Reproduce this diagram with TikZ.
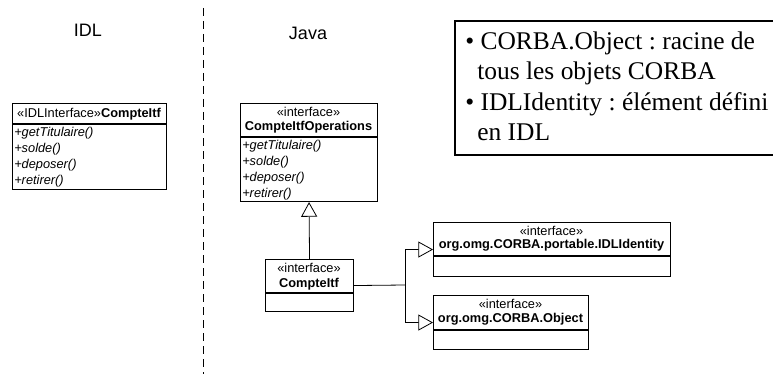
\documentclass[tikz,border=0pt]{standalone}
\usepackage{fontspec}
\setmainfont{Liberation Serif}
\setsansfont{Liberation Sans}
\usetikzlibrary{arrows.meta}
\frenchspacing

\tikzset{
  umlbox/.style={draw, line width=0.8pt, anchor=north west, inner sep=0pt},
  umltext/.style={font=\sffamily\fontsize{9.6}{11}\selectfont, inner sep=0.75pt},
  umlop/.style={anchor=west, inner sep=0.75pt, font=\sffamily\itshape\fontsize{9.6}{11}\selectfont},
  realize/.style={line width=0.6pt, -{Triangle[open, length=11pt, width=12pt, fill=white]}},
  sidetitle/.style={font=\sffamily\fontsize{13.5}{15}\selectfont},
  noteline/.style={anchor=base west, inner sep=0pt, font=\fontsize{19.1}{23}\selectfont},
}

\begin{document}
\begin{tikzpicture}[x=0.75pt,y=0.75pt,yscale=-1,xscale=1]
    \clip (0,0) rectangle (773,374);

    % Titles
    \node[sidetitle] (idltitle) at (88,30) {IDL};
    \node[sidetitle] (javatitle) at (308,33) {Java};
    % Dashed separator
    \draw[dash pattern=on 6pt off 3.75pt, line width=0.6pt] (203,8) -- (203,374);

    %Shape: IDL interface
    \node[umlbox, minimum width=154*0.75pt, minimum height=86*0.75pt] (idlitf) at (12,103) {};
    \draw[line width=0.8pt] (12,124) -- (166,124);
    \node[umltext] (idlhead) at (89,114) {«IDLInterface»\textbf{CompteItf}};
    \foreach \m [count=\i] in {getTitulaire,solde,deposer,retirer}
        \node[umlop] (idlop\i) at (13,117+16*\i) {+\m()};

    %Shape: operations interface
    \node[umlbox, minimum width=137*0.75pt, minimum height=98*0.75pt] (ops) at (240,103) {};
    \draw[line width=0.8pt] (240,137) -- (377,137);
    \node[umltext] (opsst) at (308.5,112) {«interface»};
    \node[umltext] (opsname) at (308.5,127) {\textbf{CompteItfOperations}};
    \foreach \m [count=\i] in {getTitulaire,solde,deposer,retirer}
        \node[umlop] (opsop\i) at (241,130+16*\i) {+\m()};

    %Shape: Java interface
    \node[umlbox, minimum width=88*0.75pt, minimum height=52*0.75pt] (itf) at (265,259) {};
    \draw[line width=0.8pt] (265,293) -- (353,293);
    \node[umltext] (itfst) at (309,268) {«interface»};
    \node[umltext] (itfname) at (309,284) {\textbf{CompteItf}};

    %Shape: IDLEntity interface
    \node[umlbox, minimum width=237*0.75pt, minimum height=54*0.75pt] (idlid) at (433,222) {};
    \draw[line width=0.8pt] (433,256) -- (670,256);
    \node[umltext] (idlidst) at (551.5,231) {«interface»};
    \node[umltext] (idlidname) at (551.5,245) {\textbf{org.omg.CORBA.portable.IDLIdentity}};

    %Shape: Object interface
    \node[umlbox, minimum width=155*0.75pt, minimum height=54*0.75pt] (obj) at (433,295) {};
    \draw[line width=0.8pt] (433,330) -- (588,330);
    \node[umltext] (objst) at (510.5,304) {«interface»};
    \node[umltext] (objname) at (510.5,319) {\textbf{org.omg.CORBA.Object}};

    % Connectors
    \draw[realize] (itf.north) -- (ops.south);
    \coordinate (jn) at (405,285);
    \draw[line width=0.6pt] (itf.east) -- (jn);
    \draw[realize] (jn) |- (idlid.west);
    \draw[realize] (jn) |- (obj.west);

    % Note
    \draw[line width=0.8pt] (455,21) rectangle (800,155);
    \node[noteline] (note1) at (465,50) {• CORBA.Object : racine de};
    \node[noteline] (note2) at (477,80) {tous les objets CORBA};
    \node[noteline] (note3) at (465,111) {• IDLIdentity : élément défini};
    \node[noteline] (note4) at (477,141) {en IDL};

\end{tikzpicture}
\end{document}
